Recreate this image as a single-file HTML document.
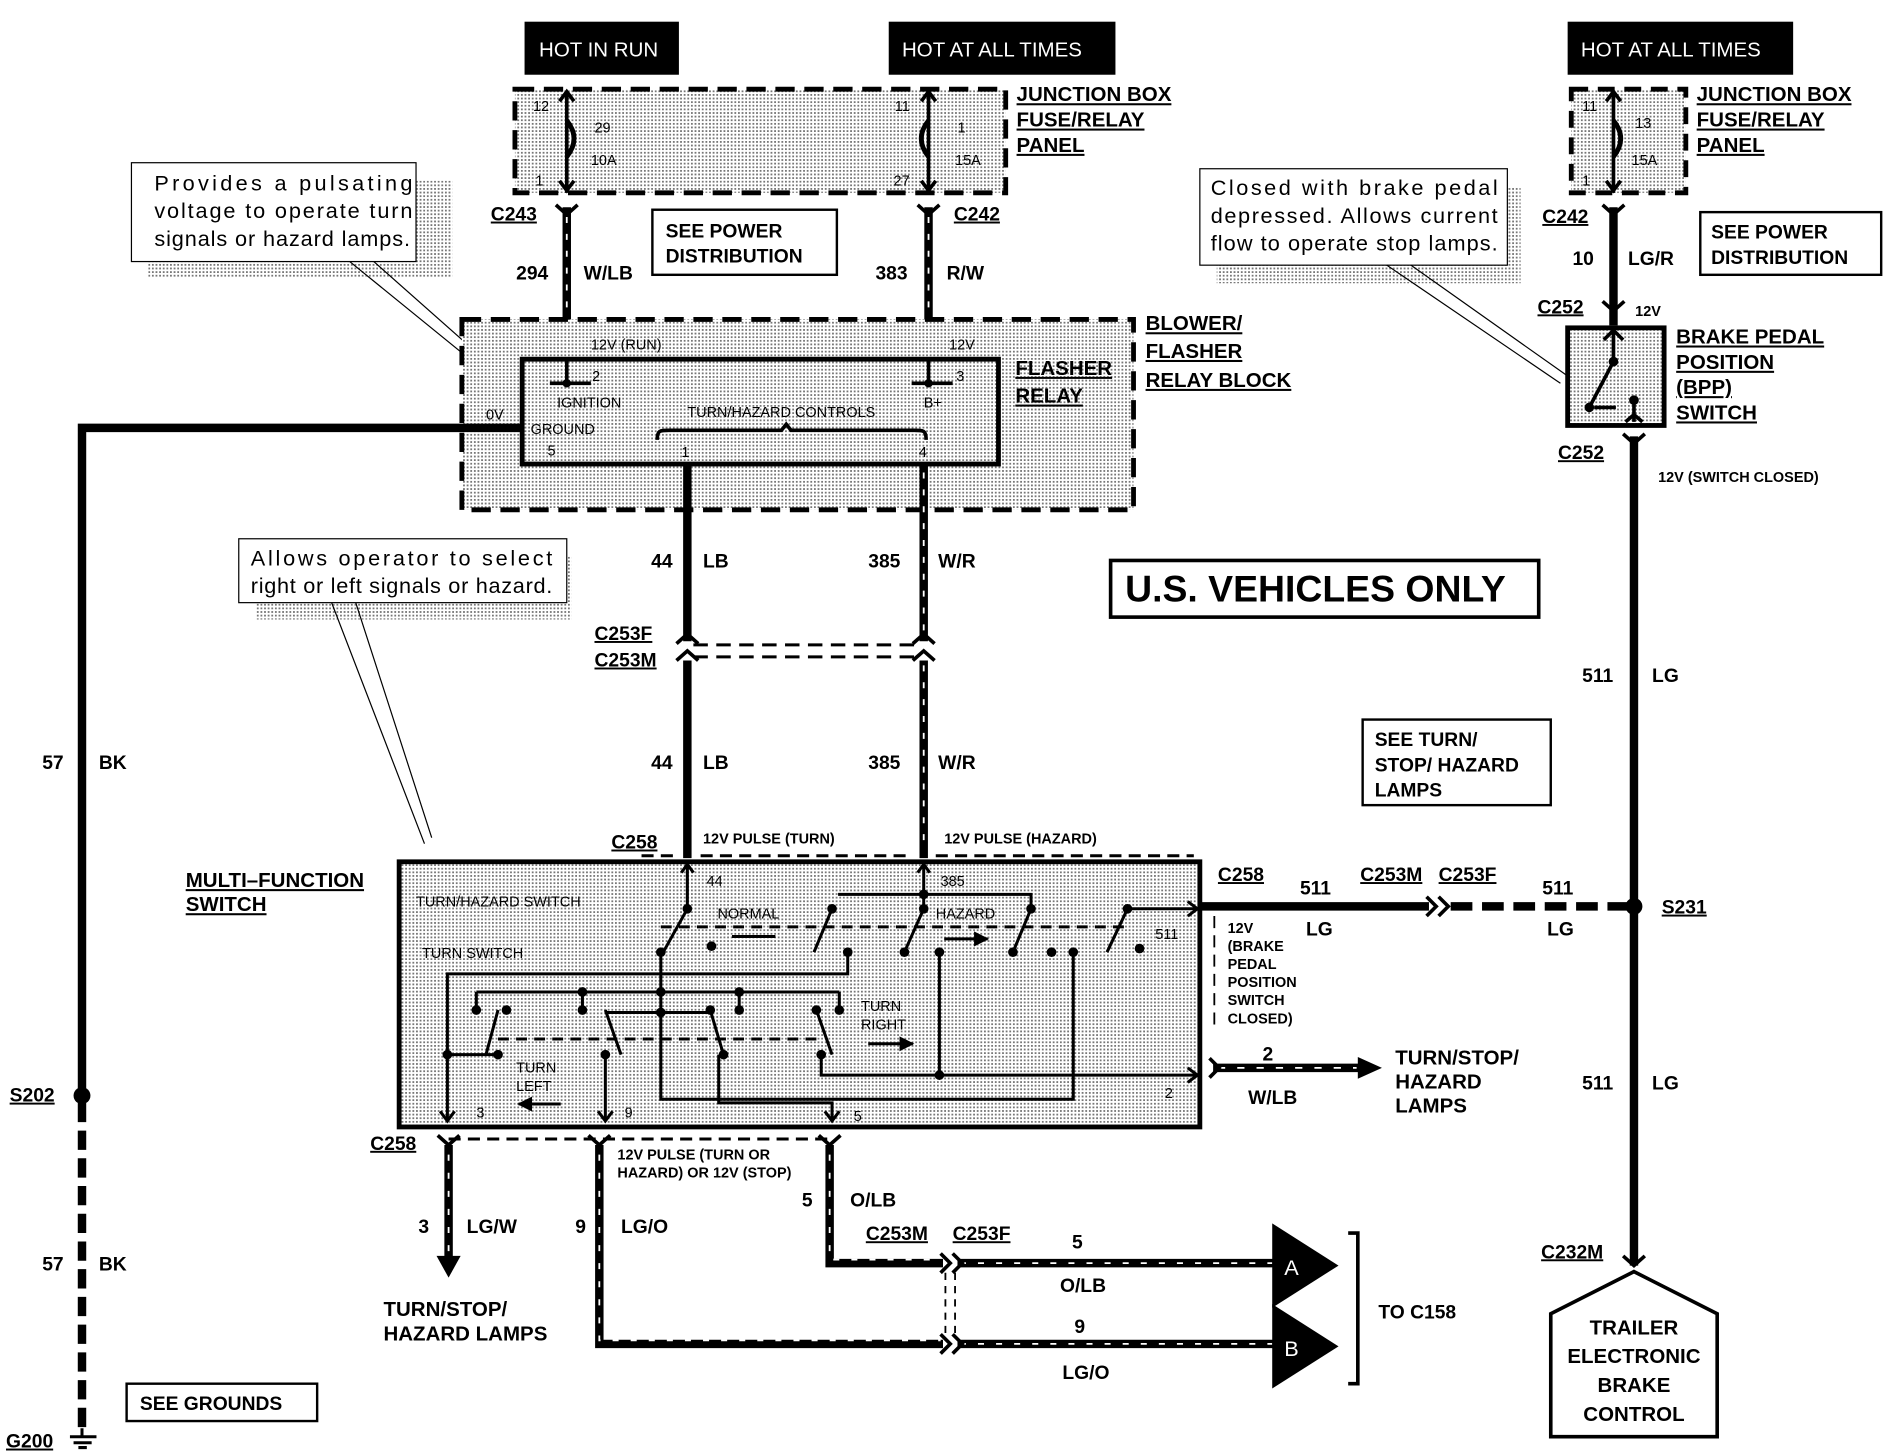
<!DOCTYPE html>
<html><head><meta charset="utf-8"><style>
html,body{margin:0;padding:0;background:#fff}
svg{display:block}
text{font-family:"Liberation Sans",sans-serif;font-weight:bold;fill:#000}
.s{font-size:12px;font-weight:normal}
.m{font-size:16px}
.l{font-size:17px}
.u{text-decoration:underline}
.w{fill:#fff;font-weight:normal;font-size:17px}
.n{font-weight:normal;font-size:18px}
</style></head><body>
<svg width="1886" height="1456" viewBox="0 0 1564 1208" preserveAspectRatio="none" xmlns="http://www.w3.org/2000/svg">
<defs>
<pattern id="dot" width="3" height="3" patternUnits="userSpaceOnUse"><rect width="3" height="3" fill="#fff"/><rect width="1.5" height="1.5" fill="#777"/></pattern>
<marker id="ar" viewBox="0 0 10 10" refX="9" refY="5" markerWidth="5" markerHeight="5" orient="auto"><path d="M0,0L10,5L0,10z" fill="#000"/></marker>
</defs>
<rect width="1564" height="1208" fill="#fff"/>

<rect x="435" y="18" width="128" height="44" fill="#000"/><text x="447" y="47" class="w">HOT IN RUN</text>
<rect x="737" y="18" width="188" height="44" fill="#000"/><text x="748" y="47" class="w">HOT AT ALL TIMES</text>
<rect x="1300" y="18" width="187" height="44" fill="#000"/><text x="1311" y="47" class="w">HOT AT ALL TIMES</text>

<rect x="427" y="74" width="407" height="86" fill="url(#dot)" stroke="#000" stroke-width="4" stroke-dasharray="16,8"/>
<rect x="1303" y="74" width="95" height="86" fill="url(#dot)" stroke="#000" stroke-width="4" stroke-dasharray="14,8"/>
<g fill="none" stroke="#000" stroke-width="3">
<path d="M470,160V76M464,84L470,76L476,84M464,150L470,158L476,150"/>
<path d="M470,100c8,10 8,20 0,30" stroke-width="4"/>
<path d="M770,160V76M764,84L770,76L776,84M764,150L770,158L776,150"/>
<path d="M770,100c-8,10 -8,20 0,30" stroke-width="4"/>
<path d="M1338,160V76M1332,84L1338,76L1344,84M1332,150L1338,158L1344,150"/>
<path d="M1338,100c8,10 8,20 0,30" stroke-width="4"/>
</g>
<text x="442" y="92" class="s">12</text><text x="493" y="110" class="s">29</text><text x="490" y="137" class="s">10A</text><text x="444" y="154" class="s">1</text>
<text x="742" y="92" class="s">11</text><text x="794" y="110" class="s">1</text><text x="792" y="137" class="s">15A</text><text x="741" y="154" class="s">27</text>
<text x="1312" y="92" class="s">11</text><text x="1356" y="106" class="s">13</text><text x="1353" y="137" class="s">15A</text><text x="1312" y="154" class="s">1</text>
<text x="843" y="84" class="l u">JUNCTION BOX</text><text x="843" y="105" class="l u">FUSE/RELAY</text><text x="843" y="126" class="l u">PANEL</text>
<text x="1407" y="84" class="l u">JUNCTION BOX</text><text x="1407" y="105" class="l u">FUSE/RELAY</text><text x="1407" y="126" class="l u">PANEL</text>

<g stroke="#000" stroke-width="7" fill="none">
<path d="M470,172V297"/><path d="M770,172V297"/><path d="M1338,172V270"/>
</g>
<g stroke="#fff" stroke-width="1.5" stroke-dasharray="5,9"><path d="M470,180V297"/><path d="M770,180V297"/></g>
<path d="M461,170L470,178L479,170M761,170L770,178L779,170M1329,170L1338,178L1347,170M1329,250L1338,258L1347,250M1346,360L1355,368L1364,360" stroke="#000" stroke-width="3" fill="none"/>
<text x="407" y="183" class="m u">C243</text><text x="791" y="183" class="m u">C242</text>
<text x="428" y="232" class="m">294</text><text x="484" y="232" class="m">W/LB</text>
<text x="726" y="232" class="m">383</text><text x="785" y="232" class="m">R/W</text>
<rect x="541" y="174" width="153" height="54" fill="#fff" stroke="#000" stroke-width="2"/>
<text x="552" y="197" class="m">SEE POWER</text><text x="552" y="218" class="m">DISTRIBUTION</text>

<rect x="123" y="150" width="252" height="80" fill="url(#dot)"/>
<rect x="109" y="135" width="236" height="82" fill="#fff" stroke="#000" stroke-width="1"/>
<text x="128" y="158" class="n" textLength="214" lengthAdjust="spacing">Provides a pulsating</text><text x="128" y="181" class="n" textLength="214" lengthAdjust="spacing">voltage to operate turn</text><text x="128" y="204" class="n" textLength="212" lengthAdjust="spacing">signals or hazard lamps.</text>
<path d="M290,217L392,300M310,217L398,295" stroke="#000" stroke-width="1"/>

<rect x="383" y="265" width="557" height="158" fill="url(#dot)" stroke="#000" stroke-width="4" stroke-dasharray="16,8"/>
<rect x="433" y="298" width="395" height="87" fill="url(#dot)" stroke="#000" stroke-width="4"/>
<text x="950" y="274" class="l u">BLOWER/</text><text x="950" y="297" class="l u">FLASHER</text><text x="950" y="321" class="l u">RELAY BLOCK</text>
<text x="842" y="311" class="l u">FLASHER</text><text x="842" y="334" class="l u">RELAY</text>
<g stroke="#000" stroke-width="3"><path d="M470,297V318M456,318H490M770,297V318M756,318H790"/></g>
<circle cx="470" cy="318" r="3.5"/><circle cx="770" cy="318" r="3.5"/>
<text x="490" y="290" class="s">12V (RUN)</text><text x="787" y="290" class="s">12V</text>
<text x="491" y="316" class="s">2</text><text x="793" y="316" class="s">3</text>
<text x="462" y="338" class="s">IGNITION</text><text x="766" y="338" class="s">B+</text>
<text x="440" y="360" class="s">GROUND</text><text x="403" y="348" class="s">0V</text>
<text x="570" y="346" class="s">TURN/HAZARD CONTROLS</text>
<text x="454" y="378" class="s">5</text><text x="565" y="379" class="s">1</text><text x="762" y="379" class="s">4</text>
<path d="M545,365c0,-8 2,-8 10,-8H648l4,-5l4,5H758c8,0 10,0 10,8" fill="none" stroke="#000" stroke-width="3"/>

<path d="M433,355H68V905" stroke="#000" stroke-width="7" fill="none"/>
<path d="M68,915V1185" stroke="#000" stroke-width="7" stroke-dasharray="16,7" fill="none"/>
<circle cx="68" cy="909" r="7"/>
<text x="35" y="638" class="m">57</text><text x="82" y="638" class="m">BK</text>
<text x="35" y="1054" class="m">57</text><text x="82" y="1054" class="m">BK</text>
<text x="8" y="914" class="m u">S202</text>
<text x="5" y="1201" class="m u">G200</text>
<path d="M68,1185V1192M58,1192H80M61,1197H76M65,1201H72" stroke="#000" stroke-width="2.5"/>
<rect x="105" y="1148" width="158" height="31" fill="#fff" stroke="#000" stroke-width="2"/>
<text x="116" y="1170" class="m">SEE GROUNDS</text>

<g stroke="#000" stroke-width="7" fill="none"><path d="M570,385V532M570,548V712"/><path d="M766,385V532M766,548V712"/></g>
<g stroke="#fff" stroke-width="1.5" stroke-dasharray="5,9"><path d="M766,392V532M766,552V705"/></g>
<path d="M561,534L570,526L579,534M561,548L570,540L579,548M757,534L766,526L775,534M757,548L766,540L775,548" stroke="#000" stroke-width="3" fill="none"/>
<path d="M575,535H762M575,545H762" stroke="#000" stroke-width="2.5" stroke-dasharray="12,7"/>
<text x="493" y="531" class="m u">C253F</text><text x="493" y="553" class="m u">C253M</text>
<text x="540" y="471" class="m">44</text><text x="583" y="471" class="m">LB</text><text x="720" y="471" class="m">385</text><text x="778" y="471" class="m">W/R</text>
<text x="540" y="638" class="m">44</text><text x="583" y="638" class="m">LB</text><text x="720" y="638" class="m">385</text><text x="778" y="638" class="m">W/R</text>
<text x="507" y="704" class="m u">C258</text>
<text x="583" y="700" class="s" style="font-weight:bold">12V PULSE (TURN)</text>
<text x="783" y="700" class="s" style="font-weight:bold">12V PULSE (HAZARD)</text>
<path d="M532,710L560,710M581,710H755M776,710H990" stroke="#000" stroke-width="2.5" stroke-dasharray="10,6"/>

<rect x="212" y="462" width="262" height="52" fill="url(#dot)"/>
<rect x="198" y="447" width="272" height="53" fill="#fff" stroke="#000" stroke-width="1"/>
<text x="208" y="469" class="n" textLength="250" lengthAdjust="spacing">Allows operator to select</text><text x="208" y="492" class="n" textLength="250" lengthAdjust="spacing">right or left signals or hazard.</text>
<path d="M275,500L352,700M295,500L358,695" stroke="#000" stroke-width="1"/>

<rect x="921" y="465" width="355" height="47" fill="#fff" stroke="#000" stroke-width="3"/>
<text x="933" y="499" style="font-size:31px">U.S. VEHICLES ONLY</text>
<rect x="1130" y="597" width="156" height="71" fill="#fff" stroke="#000" stroke-width="2"/>
<text x="1140" y="619" class="m">SEE TURN/</text><text x="1140" y="640" class="m">STOP/ HAZARD</text><text x="1140" y="661" class="m">LAMPS</text>

<text x="1279" y="185" class="m u">C242</text>
<text x="1304" y="220" class="m">10</text><text x="1350" y="220" class="m">LG/R</text>
<rect x="1410" y="176" width="150" height="52" fill="#fff" stroke="#000" stroke-width="2"/>
<text x="1419" y="198" class="m">SEE POWER</text><text x="1419" y="219" class="m">DISTRIBUTION</text>
<text x="1275" y="260" class="m u">C252</text><text x="1356" y="262" class="s" style="font-weight:bold">12V</text>
<rect x="1300" y="272" width="80" height="81" fill="url(#dot)" stroke="#000" stroke-width="4"/>
<g stroke="#000" stroke-width="3" fill="none"><path d="M1338,272V300M1330,282L1338,274L1346,282M1338,300L1318,338M1322,338H1340M1355,332V350M1348,350L1355,344L1362,350"/></g>
<circle cx="1338" cy="300" r="4"/><circle cx="1318" cy="338" r="4"/><circle cx="1355" cy="332" r="4"/>
<text x="1390" y="285" class="l u">BRAKE PEDAL</text><text x="1390" y="306" class="l u">POSITION</text><text x="1390" y="327" class="l u">(BPP)</text><text x="1390" y="348" class="l u">SWITCH</text>
<text x="1292" y="381" class="m u">C252</text>
<text x="1375" y="400" class="s" style="font-weight:bold">12V (SWITCH CLOSED)</text>
<path d="M1355,362V1050" stroke="#000" stroke-width="7"/>
<text x="1312" y="566" class="m">511</text><text x="1370" y="566" class="m">LG</text>
<text x="1312" y="904" class="m">511</text><text x="1370" y="904" class="m">LG</text>
<circle cx="1355" cy="752" r="7"/><text x="1378" y="758" class="m u">S231</text>
<text x="1278" y="1044" class="m u">C232M</text>
<path d="M1346,1042L1355,1050L1364,1042" stroke="#000" stroke-width="3" fill="none"/>
<path d="M1355,1055L1424,1090V1192H1286V1090Z" fill="#fff" stroke="#000" stroke-width="3"/>
<text x="1355" y="1107" class="l" text-anchor="middle">TRAILER</text><text x="1355" y="1131" class="l" text-anchor="middle">ELECTRONIC</text><text x="1355" y="1155" class="l" text-anchor="middle">BRAKE</text><text x="1355" y="1179" class="l" text-anchor="middle">CONTROL</text>

<rect x="1009" y="155" width="252" height="80" fill="url(#dot)"/>
<rect x="995" y="140" width="255" height="80" fill="#fff" stroke="#000" stroke-width="1"/>
<text x="1004" y="162" class="n" textLength="238" lengthAdjust="spacing">Closed with brake pedal</text><text x="1004" y="185" class="n" textLength="238" lengthAdjust="spacing">depressed. Allows current</text><text x="1004" y="208" class="n" textLength="238" lengthAdjust="spacing">flow to operate stop lamps.</text>
<path d="M1150,220L1294,318M1170,220L1300,312" stroke="#000" stroke-width="1"/>

<rect x="331" y="715" width="664" height="220" fill="url(#dot)" stroke="#000" stroke-width="4"/>
<text x="154" y="736" class="l u">MULTI–FUNCTION</text><text x="154" y="756" class="l u">SWITCH</text>
<text x="345" y="752" class="s">TURN/HAZARD SWITCH</text><text x="350" y="795" class="s">TURN SWITCH</text>
<text x="595" y="762" class="s">NORMAL</text><text x="776" y="762" class="s">HAZARD</text>
<text x="586" y="735" class="s">44</text><text x="780" y="735" class="s">385</text>
<text x="958" y="779" class="s">511</text><text x="966" y="911" class="s">2</text>
<text x="714" y="839" class="s">TURN</text><text x="714" y="854" class="s">RIGHT</text>
<text x="428" y="890" class="s">TURN</text><text x="428" y="905" class="s">LEFT</text>
<text x="395" y="927" class="s">3</text><text x="518" y="927" class="s">9</text><text x="708" y="930" class="s">5</text>
<g stroke="#000" stroke-width="2.5" fill="none">
<path d="M570,754V718M565,724L570,717L575,724"/>
<path d="M766,742V718M761,724L766,717L771,724"/>
<path d="M695,742H855V754M766,742V754"/>
<path d="M570,754L550,790M690,754L675,790M766,754L750,790M855,754L840,790M935,754L918,790"/>
<path d="M935,754H992M985,748L993,754L985,760"/>
<path d="M548,769H935" stroke-dasharray="9,6"/>
<path d="M643,777H607M783,779H819" marker-end="url(#ar)"/>
<path d="M703,790V808H371V928"/>
<path d="M548,790V823M395,823H696M395,823V838M483,823V838M613,823V838M696,823V838"/>
<path d="M548,823V912H890V790"/>
<path d="M413,838L403,875M502,838L515,875M589,838L600,875M677,838L690,875"/>
<path d="M371,875H413M502,840H591"/>
<path d="M413,862H677" stroke-dasharray="9,6"/>
<path d="M502,875V928M596,875V915H690V928M681,875V892H992M985,886L993,892L985,898M779,790V892"/>
<path d="M365,922L371,930L377,922M496,922L502,930L508,922M684,922L690,930L696,922"/>
<path d="M720,866H757" marker-end="url(#ar)"/>
<path d="M465,916H430" marker-end="url(#ar)"/>
</g>
<g fill="#000"><circle cx="570" cy="754" r="4"/><circle cx="548" cy="790" r="4"/><circle cx="590" cy="785" r="4"/><circle cx="690" cy="754" r="4"/><circle cx="703" cy="790" r="4"/><circle cx="766" cy="754" r="4"/><circle cx="750" cy="790" r="4"/><circle cx="779" cy="790" r="4"/><circle cx="855" cy="754" r="4"/><circle cx="840" cy="790" r="4"/><circle cx="935" cy="754" r="4"/><circle cx="890" cy="790" r="4"/><circle cx="872" cy="790" r="4"/><circle cx="945" cy="787" r="4"/><circle cx="766" cy="742" r="4"/>
<circle cx="548" cy="823" r="4"/><circle cx="483" cy="823" r="4"/><circle cx="613" cy="823" r="4"/><circle cx="395" cy="838" r="4"/><circle cx="483" cy="838" r="4"/><circle cx="548" cy="840" r="4"/><circle cx="613" cy="838" r="4"/><circle cx="696" cy="838" r="4"/><circle cx="420" cy="838" r="4"/><circle cx="589" cy="838" r="4"/><circle cx="677" cy="838" r="4"/>
<circle cx="371" cy="875" r="4"/><circle cx="413" cy="875" r="4"/><circle cx="502" cy="875" r="4"/><circle cx="600" cy="875" r="4"/><circle cx="681" cy="875" r="4"/><circle cx="779" cy="892" r="4"/></g>

<text x="1010" y="731" class="m u">C258</text>
<path d="M995,752H1185" stroke="#000" stroke-width="7"/>
<path d="M1183,744L1191,752L1183,760M1193,744L1201,752L1193,760" stroke="#000" stroke-width="3" fill="none"/>
<path d="M1203,752H1355" stroke="#000" stroke-width="7" stroke-dasharray="18,8"/>
<text x="1078" y="742" class="m">511</text><text x="1083" y="776" class="m">LG</text>
<text x="1128" y="731" class="m u">C253M</text><text x="1193" y="731" class="m u">C253F</text>
<text x="1279" y="742" class="m">511</text><text x="1283" y="776" class="m">LG</text>
<path d="M1007,760V850" stroke="#000" stroke-width="1.5" stroke-dasharray="10,6"/>
<text x="1018" y="774" class="s" style="font-weight:bold">12V</text><text x="1018" y="789" class="s" style="font-weight:bold">(BRAKE</text><text x="1018" y="804" class="s" style="font-weight:bold">PEDAL</text><text x="1018" y="819" class="s" style="font-weight:bold">POSITION</text><text x="1018" y="834" class="s" style="font-weight:bold">SWITCH</text><text x="1018" y="849" class="s" style="font-weight:bold">CLOSED)</text>
<path d="M1006,886H1128" stroke="#000" stroke-width="7"/>
<path d="M1010,886H1125" stroke="#fff" stroke-width="1.5" stroke-dasharray="6,10"/>
<path d="M1126,877L1146,886L1126,895Z" fill="#000"/>
<path d="M1003,878L1011,886L1003,894" stroke="#000" stroke-width="3" fill="none"/>
<text x="1047" y="880" class="m">2</text><text x="1035" y="916" class="m">W/LB</text>
<text x="1157" y="883" class="l">TURN/STOP/</text><text x="1157" y="903" class="l">HAZARD</text><text x="1157" y="923" class="l">LAMPS</text>

<text x="307" y="954" class="m u">C258</text>
<path d="M363,942L372,950L381,942M488,942L497,950L506,942M679,942L688,950L697,942" stroke="#000" stroke-width="3" fill="none"/>
<path d="M372,945H688" stroke="#000" stroke-width="2.5" stroke-dasharray="10,6"/>
<g stroke="#000" stroke-width="7" fill="none">
<path d="M372,950V1045"/><path d="M497,950V1115H782"/><path d="M688,950V1048H782"/>
<path d="M794,1048H1058"/><path d="M794,1115H1058"/>
</g>
<g stroke="#fff" stroke-width="1.5" stroke-dasharray="5,10" fill="none"><path d="M372,958V1040"/><path d="M497,958V1112H780"/><path d="M688,958V1045H780"/><path d="M796,1048H1055"/><path d="M796,1115H1055"/></g>
<path d="M362,1042L372,1060L382,1042Z" fill="#000"/>
<path d="M780,1040L788,1048L780,1056M780,1107L788,1115L780,1123M790,1040L798,1048L790,1056M790,1107L798,1115L790,1123" stroke="#000" stroke-width="3" fill="none"/>
<path d="M784,1056V1107M792,1056V1107" stroke="#000" stroke-width="1.5" stroke-dasharray="6,5"/>
<text x="347" y="1023" class="m">3</text><text x="387" y="1023" class="m">LG/W</text>
<text x="477" y="1023" class="m">9</text><text x="515" y="1023" class="m">LG/O</text>
<text x="512" y="962" class="s" style="font-weight:bold">12V PULSE (TURN OR</text><text x="512" y="977" class="s" style="font-weight:bold">HAZARD) OR 12V (STOP)</text>
<text x="665" y="1001" class="m">5</text><text x="705" y="1001" class="m">O/LB</text>
<text x="718" y="1029" class="m u">C253M</text><text x="790" y="1029" class="m u">C253F</text>
<text x="889" y="1036" class="m">5</text><text x="879" y="1072" class="m">O/LB</text>
<text x="891" y="1106" class="m">9</text><text x="881" y="1144" class="m">LG/O</text>
<text x="318" y="1092" class="l">TURN/STOP/</text><text x="318" y="1112" class="l">HAZARD LAMPS</text>
<path d="M1055,1015L1110,1050L1055,1085Z" fill="#000"/><text x="1065" y="1058" class="w" style="font-size:18px">A</text>
<path d="M1055,1082L1110,1117L1055,1152Z" fill="#000"/><text x="1065" y="1125" class="w" style="font-size:18px">B</text>
<path d="M1118,1023H1126V1148H1118" stroke="#000" stroke-width="3" fill="none"/>
<text x="1143" y="1094" class="m">TO C158</text>
</svg>
</body></html>
